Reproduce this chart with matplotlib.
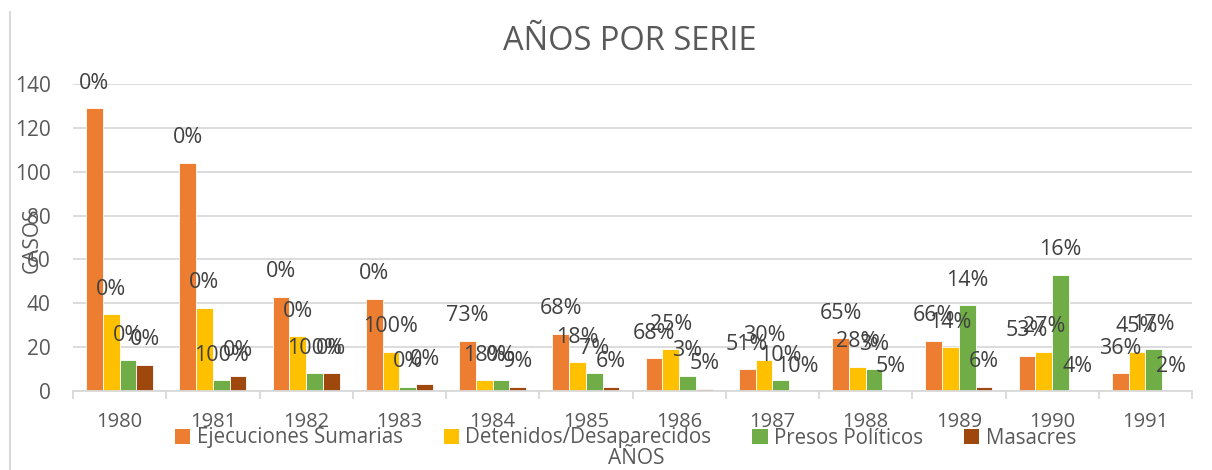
import matplotlib.pyplot as plt
import numpy as np
from matplotlib.patches import Patch

plt.rcParams['font.family'] = ['Open Sans', 'DejaVu Sans']

years = ['1980', '1981', '1982', '1983', '1984', '1985', '1986', '1987', '1988', '1989', '1990', '1991']
series_names = ['Ejecuciones Sumarias', 'Detenidos/Desaparecidos', 'Presos Políticos', 'Masacres']
ejecuciones = [129, 104, 43, 42, 23, 26, 15, 10, 24, 23, 16, 8]
detenidos = [35, 38, 25, 18, 5, 13, 19, 14, 11, 20, 18, 18]
presos = [14, 5, 8, 2, 5, 8, 7, 5, 10, 39, 53, 19]
masacres = [12, 7, 8, 3, 2, 2, 1, 0, 0, 2, 0, 0]

lab_ejecuciones = ['0%', '0%', '0%', '0%', '73%', '68%', '68%', '51%', '65%', '66%', '53%', '36%']
lab_detenidos = ['0%', '0%', '0%', '100%', '18%', '18%', '25%', '30%', '28%', '14%', '27%', '45%']
lab_presos = ['0%', '100%', '100%', '0%', '0%', '7%', '3%', '10%', '3%', '14%', '16%', '17%']
lab_masacres = ['0%', '0%', '0%', '0%', '9%', '6%', '5%', '10%', '5%', '6%', '4%', '2%']

colors = ['#ED7D31', '#FFC000', '#70AD47', '#9E480E']
txt = '#595959'
grid_c = '#D9D9D9'

values = [ejecuciones, detenidos, presos, masacres]
labels = [lab_ejecuciones, lab_detenidos, lab_presos, lab_masacres]

fig = plt.figure(figsize=(12.12, 4.7), dpi=100)
ax = fig.add_axes([73 / 1212, 1 - 391 / 470, (1192 - 73) / 1212, (391 - 84) / 470])

x = np.arange(len(years))
w = 0.18
for i, (vals, labs) in enumerate(zip(values, labels)):
    pos = x + (i - 1.5) * w
    ax.bar(pos, vals, width=w, color=colors[i], edgecolor='white', linewidth=0.6, zorder=2)
    for px, v, lb in zip(pos, vals, labs):
        ax.annotate(lb, (px, v), xytext=(0, 18), textcoords='offset points',
                    ha='center', va='center', fontsize=15.5, color='#404040', zorder=3)

ax.set_xlim(-0.5, len(years) - 0.5)
ax.set_ylim(0, 140)
ax.set_yticks(range(0, 141, 20))
ax.yaxis.grid(True, color=grid_c, linewidth=1.3, zorder=0)
ax.set_axisbelow(True)
for s in ['top', 'right', 'left']:
    ax.spines[s].set_visible(False)
ax.spines['bottom'].set_color(grid_c)
ax.spines['bottom'].set_linewidth(1.3)

ax.set_xticks(x)
ax.set_xticklabels(years)
ax.set_xticks(np.arange(-0.5, len(years), 1), minor=True)
ax.tick_params(axis='x', which='major', length=0, pad=15, labelsize=14.5, labelcolor=txt)
ax.tick_params(axis='x', which='minor', length=6, width=1.3, color=grid_c)
ax.tick_params(axis='y', length=0, pad=16, labelsize=15, labelcolor=txt)

fig.text(0.52, 1 - 42 / 470, 'AÑOS POR SERIE', ha='center', va='center', fontsize=23.5, color=txt)
fig.text(32 / 1212, 1 - 240 / 470, 'CASOS', rotation=90, ha='center', va='center', fontsize=15, color=txt)
fig.text(0.525, 1 - 458 / 470, 'AÑOS', ha='center', va='center', fontsize=15, color=txt)

handles = [Patch(facecolor=c, edgecolor='none') for c in colors]
fig.legend(handles, series_names, loc='center', bbox_to_anchor=(0.516, 1 - 438 / 470), ncol=4,
           frameon=False, fontsize=14.8, labelcolor=txt, handlelength=0.75, handleheight=0.75,
           handletextpad=0.3, columnspacing=2.0, borderpad=0)

fig.add_artist(plt.Line2D([10 / 1212, 10 / 1212], [0, 1 - 12 / 470], color=grid_c, linewidth=1.5))

fig.savefig('out.png', dpi=100)
